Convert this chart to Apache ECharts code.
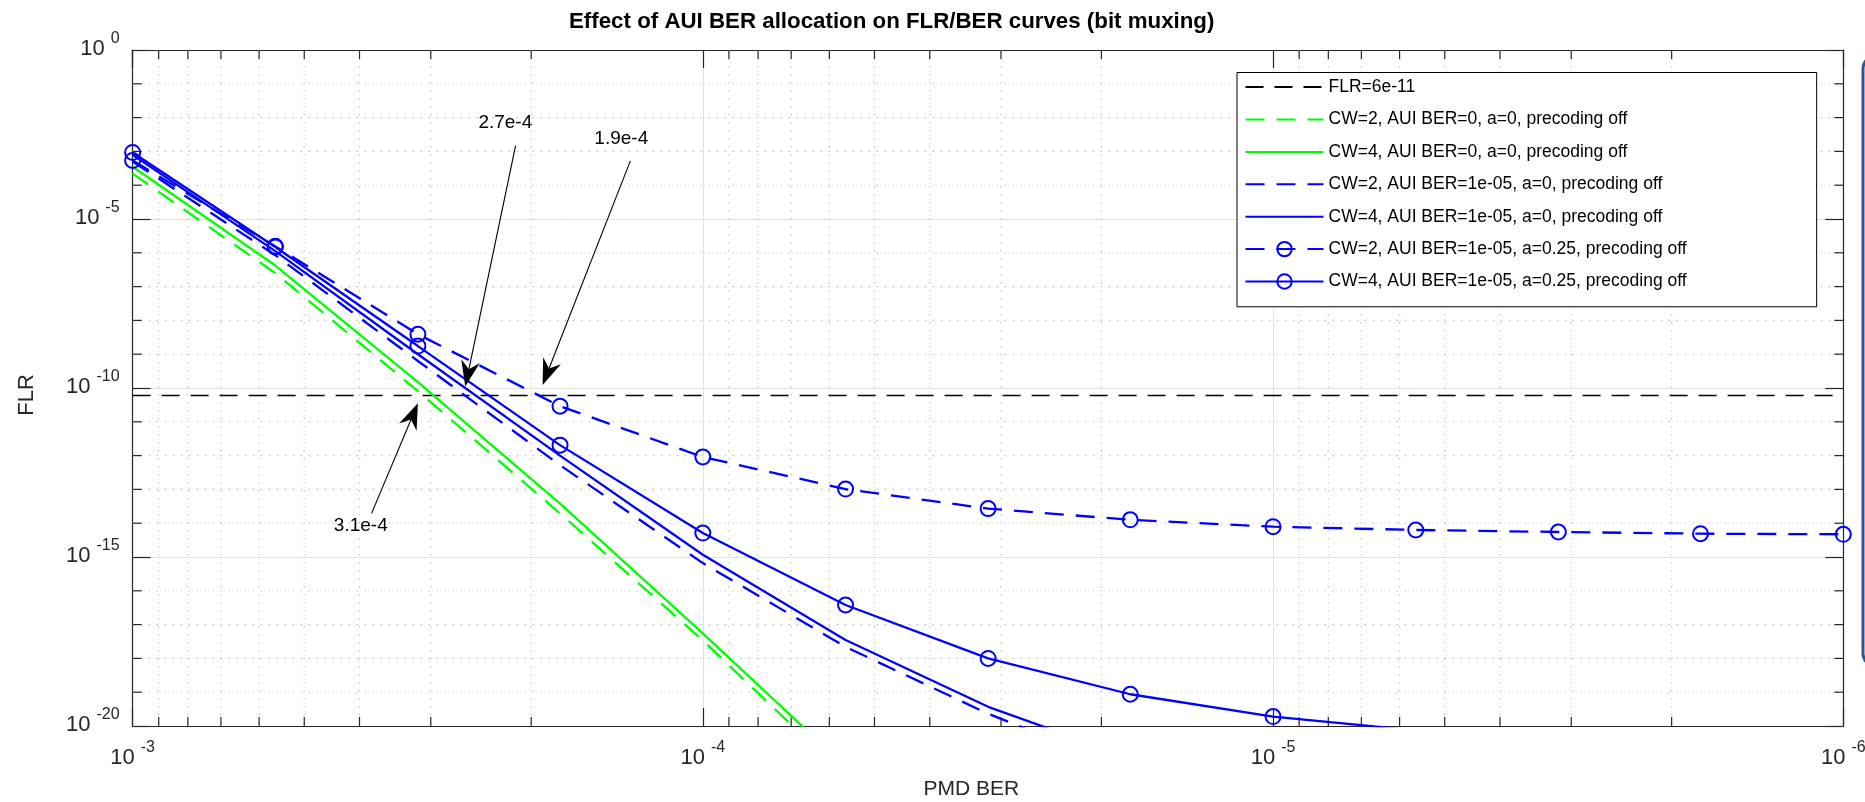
<!DOCTYPE html>
<html><head><meta charset="utf-8">
<script src="https://cdn.jsdelivr.net/npm/echarts@6/dist/echarts.min.js"></script>
<style>html,body{margin:0;padding:0;background:#fff}#c{width:1865px;height:802px}</style>
</head><body><div id="c"></div>
<script>
// ---- data ----
const pmdBer = [1e-3, 5.62e-4, 3.16e-4, 1.78e-4, 1e-4, 5.62e-5, 3.16e-5, 1.78e-5, 1e-5, 5.62e-6, 3.16e-6, 1.78e-6, 1e-6];
const flrTarget = 6e-11;
const cw2Aui0 = [2.2e-4, 2.5e-7, 8.1e-11, 1.95e-14, 3.4e-18, 3.2e-22];
const cw4Aui0 = [3.5e-4, 4.2e-7, 1.5e-10, 3.8e-14, 5.5e-18, 6.3e-22];
const cw2Aui5 = [5.0e-4, 8.5e-7, 6.3e-10, 5.2e-13, 6.6e-16, 2.2e-18, 2.3e-20, 5.0e-22];
const cw4Aui5 = [7.9e-4, 1.12e-6, 1.0e-9, 1.0e-12, 1.17e-15, 3.5e-18, 3.7e-20, 1.15e-21];
const cw2Aui5a25 = [5.4e-4, 1.55e-6, 3.9e-9, 2.9e-11, 9.1e-13, 1.02e-13, 2.7e-14, 1.26e-14, 7.9e-15, 6.3e-15, 5.5e-15, 4.9e-15, 4.7e-15];
const cw4Aui5a25 = [9.3e-4, 1.48e-6, 1.74e-9, 2.04e-12, 5.1e-15, 3.8e-17, 1.0e-18, 8.7e-20, 1.9e-20, 7.4e-21];
const seriesNames = [
  'FLR=6e-11',
  'CW=2, AUI BER=0, a=0, precoding off',
  'CW=4, AUI BER=0, a=0, precoding off',
  'CW=2, AUI BER=1e-05, a=0, precoding off',
  'CW=4, AUI BER=1e-05, a=0, precoding off',
  'CW=2, AUI BER=1e-05, a=0.25, precoding off',
  'CW=4, AUI BER=1e-05, a=0.25, precoding off'
];
const seriesHasMarker = [false, false, false, false, false, true, true];
const titleText = 'Effect of AUI BER allocation on FLR/BER curves (bit muxing)';
const xMinorTicks = [9e-4, 8e-4, 7e-4, 6e-4, 5e-4, 4e-4, 3e-4, 2e-4,
  9e-5, 8e-5, 7e-5, 6e-5, 5e-5, 4e-5, 3e-5, 2e-5,
  9e-6, 8e-6, 7e-6, 6e-6, 5e-6, 4e-6, 3e-6, 2e-6];
const yMinorTicks = [1e-1, 1e-2, 1e-3, 1e-4, 1e-6, 1e-7, 1e-8, 1e-9, 1e-11, 1e-12, 1e-13, 1e-14, 1e-16, 1e-17, 1e-18, 1e-19];
const annLabels = ['2.7e-4', '1.9e-4', '3.1e-4'];
const annTips = [[2.61e-4, 1.1e-10], [1.91e-4, 1.23e-10], [3.16e-4, 3.55e-11]];
const annTails = [[2.13e-4, 1.48e-3], [1.34e-4, 5.25e-4], [3.81e-4, 1.95e-14]];
const annTextAt = [[2.22e-4, 6.9e-3], [1.39e-4, 2.4e-3], [3.98e-4, 8.3e-15]];

// ---- styling ----
const FONT = '"Liberation Sans", Arial, Helvetica, sans-serif';
const AX = '#262626';
const BLUE = '#0000ff', GREEN = '#00ff00';
const DASH = [19, 12];

function pairs(arr) { return arr.map((v, i) => [pmdBer[i], v]); }
function powLabel(v) { const e = Math.round(Math.log10(v)); return '{b|10}{e|' + e + '}'; }

const yRich = {
  b: {fontSize: 22, fontFamily: FONT, color: AX, padding: [7, 0, 9, 0]},
  e: {fontSize: 16, fontFamily: FONT, color: AX, verticalAlign: 'top', padding: [0, 0, 0, 6]}
};
const xRich = {
  b: {fontSize: 22, fontFamily: FONT, color: AX, padding: [7, 0, 0, 0]},
  e: {fontSize: 16, fontFamily: FONT, color: AX, verticalAlign: 'top', padding: [0, 0, 0, 6]}
};

const axLine = {show: true, onZero: false, lineStyle: {color: AX, width: 1.2}};
const axTick = {show: true, inside: true, length: 18, lineStyle: {color: AX, width: 1.2}};
const majorGrid = {show: true, lineStyle: {color: '#e1e1e1', width: 1}};

const chart = echarts.init(document.getElementById('c'), null, {renderer: 'canvas'});

function lineSeries(name, arr, color, dashed, marker) {
  const s = {
    name: name, type: 'line', data: pairs(arr), z: 3, clip: true,
    lineStyle: {color: color, width: 2.3, type: dashed ? DASH : 'solid'},
    itemStyle: {color: color},
    emphasis: {disabled: true},
    symbol: 'none'
  };
  if (marker) {
    s.symbol = 'circle';
    s.symbolSize = 15;
    s.showSymbol = true;
    s.itemStyle = {color: 'rgba(0,0,0,0)', borderColor: color, borderWidth: 2};
  }
  return s;
}

const option = {
  animation: false,
  backgroundColor: '#fff',
  textStyle: {fontFamily: FONT},
  title: {
    text: titleText, left: 569, top: 11, padding: 0,
    textStyle: {fontSize: 22.3, fontWeight: 'bold', color: '#000', fontFamily: FONT}
  },
  grid: {left: 132.6, right: 21.7, top: 50, bottom: 76, containLabel: false, outerBoundsMode: 'none'},
  legend: {
    orient: 'vertical', left: 1237, top: 72.5,
    padding: [5.6, 130, 16.3, 7.5],
    itemWidth: 78, itemHeight: 18, itemGap: 14.4,
    backgroundColor: '#fff', borderColor: '#000', borderWidth: 1, borderRadius: 0,
    textStyle: {fontSize: 17.5, color: '#000', fontFamily: FONT},
    data: seriesNames.map((n, i) => seriesHasMarker[i] ? {name: n} : {name: n, itemStyle: {opacity: 0}}),
    selectedMode: false
  },
  xAxis: [{
    type: 'log', logBase: 10, min: 1e-6, max: 1e-3, inverse: true, position: 'bottom',
    name: 'PMD BER', nameLocation: 'middle', nameGap: 53,
    nameTextStyle: {fontSize: 21, color: AX, fontFamily: FONT, padding: [0, 33, 0, 0]},
    axisLine: axLine, axisTick: axTick,
    axisLabel: {margin: 14, formatter: powLabel, rich: xRich, showMinLabel: true, showMaxLabel: true},
    splitLine: majorGrid
  }, {
    type: 'log', logBase: 10, min: 1e-6, max: 1e-3, inverse: true, position: 'top',
    axisLine: axLine, axisTick: axTick, axisLabel: {show: false}, splitLine: {show: false}
  }],
  yAxis: [{
    type: 'log', logBase: 10, min: 1e-20, max: 1, interval: 5, position: 'left',
    name: 'FLR', nameLocation: 'middle', nameGap: 95,
    nameTextStyle: {fontSize: 22, color: AX, fontFamily: FONT, padding: [0, 14, 0, 0]},
    axisLine: axLine, axisTick: axTick,
    axisLabel: {margin: 13, formatter: powLabel, rich: yRich, showMinLabel: true, showMaxLabel: true},
    splitLine: majorGrid
  }, {
    type: 'log', logBase: 10, min: 1e-20, max: 1, interval: 5, position: 'right',
    axisLine: axLine, axisTick: axTick, axisLabel: {show: false}, splitLine: {show: false}
  }],
  graphic: [{
    type: 'rect', z: 100, silent: true,
    shape: {x: 1863, y: 55, width: 60, height: 612, r: 14},
    style: {fill: 'none', stroke: '#2f5597', lineWidth: 3}
  }],
  series: [
    {
      name: 'yMinorGrid', type: 'custom', z: 1, silent: true, clip: false,
      data: yMinorTicks.map(v => [1e-3, v]),
      renderItem: function (params, api) {
        const cs = params.coordSys;
        const y = api.coord([api.value(0), api.value(1)])[1];
        return {type: 'group', children: [
          {type: 'line', shape: {x1: cs.x, y1: y, x2: cs.x + cs.width, y2: y}, style: {stroke: '#bdbdbd', lineWidth: 1.1, lineDash: [1.5, 6.5]}},
          {type: 'line', shape: {x1: cs.x, y1: y, x2: cs.x + 9, y2: y}, style: {stroke: AX, lineWidth: 1.2}},
          {type: 'line', shape: {x1: cs.x + cs.width - 9, y1: y, x2: cs.x + cs.width, y2: y}, style: {stroke: AX, lineWidth: 1.2}}
        ]};
      }
    },
    {
      name: 'xMinorGrid', type: 'custom', z: 1, silent: true, clip: false,
      data: xMinorTicks.map(v => [v, 1e-10]),
      renderItem: function (params, api) {
        const cs = params.coordSys;
        const x = api.coord([api.value(0), api.value(1)])[0];
        return {type: 'group', children: [
          {type: 'line', shape: {x1: x, y1: cs.y, x2: x, y2: cs.y + cs.height}, style: {stroke: '#bdbdbd', lineWidth: 1.1, lineDash: [1.5, 6.5]}},
          {type: 'line', shape: {x1: x, y1: cs.y + cs.height - 9, x2: x, y2: cs.y + cs.height}, style: {stroke: AX, lineWidth: 1.2}},
          {type: 'line', shape: {x1: x, y1: cs.y, x2: x, y2: cs.y + 9}, style: {stroke: AX, lineWidth: 1.2}}
        ]};
      }
    },
    {
      name: seriesNames[0], type: 'line', z: 3, symbol: 'none',
      data: [[pmdBer[0], flrTarget], [pmdBer[pmdBer.length - 1], flrTarget]],
      lineStyle: {color: '#000', width: 1.3, type: [18, 11]}, itemStyle: {color: '#000'},
      emphasis: {disabled: true}
    },
    lineSeries(seriesNames[1], cw2Aui0, GREEN, true, false),
    lineSeries(seriesNames[2], cw4Aui0, GREEN, false, false),
    lineSeries(seriesNames[3], cw2Aui5, BLUE, true, false),
    lineSeries(seriesNames[4], cw4Aui5, BLUE, false, false),
    lineSeries(seriesNames[5], cw2Aui5a25, BLUE, true, true),
    lineSeries(seriesNames[6], cw4Aui5a25, BLUE, false, true),
    {
      name: 'annotations', type: 'custom', z: 6, silent: true, clip: false,
      data: annTips.map(t => [t[0], t[1]]),
      renderItem: function (params, api) {
        const i = params.dataIndex;
        const T = api.coord(annTips[i]);
        const S = api.coord(annTails[i]);
        const P = api.coord(annTextAt[i]);
        const dx = T[0] - S[0], dy = T[1] - S[1];
        const len = Math.hypot(dx, dy);
        const ux = dx / len, uy = dy / len, nx = -uy, ny = ux;
        const L = 26, W = 19;
        const bx = T[0] - ux * L, by = T[1] - uy * L;
        const kx = T[0] - ux * L * 0.68, ky = T[1] - uy * L * 0.68;
        return {type: 'group', children: [
          {type: 'line', shape: {x1: S[0], y1: S[1], x2: kx, y2: ky}, style: {stroke: '#000', lineWidth: 1.1}},
          {type: 'polygon', shape: {points: [[T[0], T[1]], [bx + nx * W / 2, by + ny * W / 2], [kx, ky], [bx - nx * W / 2, by - ny * W / 2]]}, style: {fill: '#000'}},
          {type: 'text', style: {x: P[0], y: P[1], text: annLabels[i], fill: '#000', font: '19px ' + FONT, textAlign: 'center', textVerticalAlign: 'middle', align: 'center', verticalAlign: 'middle'}}
        ]};
      }
    }
  ]
};
chart.setOption(option);
</script>
</body></html>
